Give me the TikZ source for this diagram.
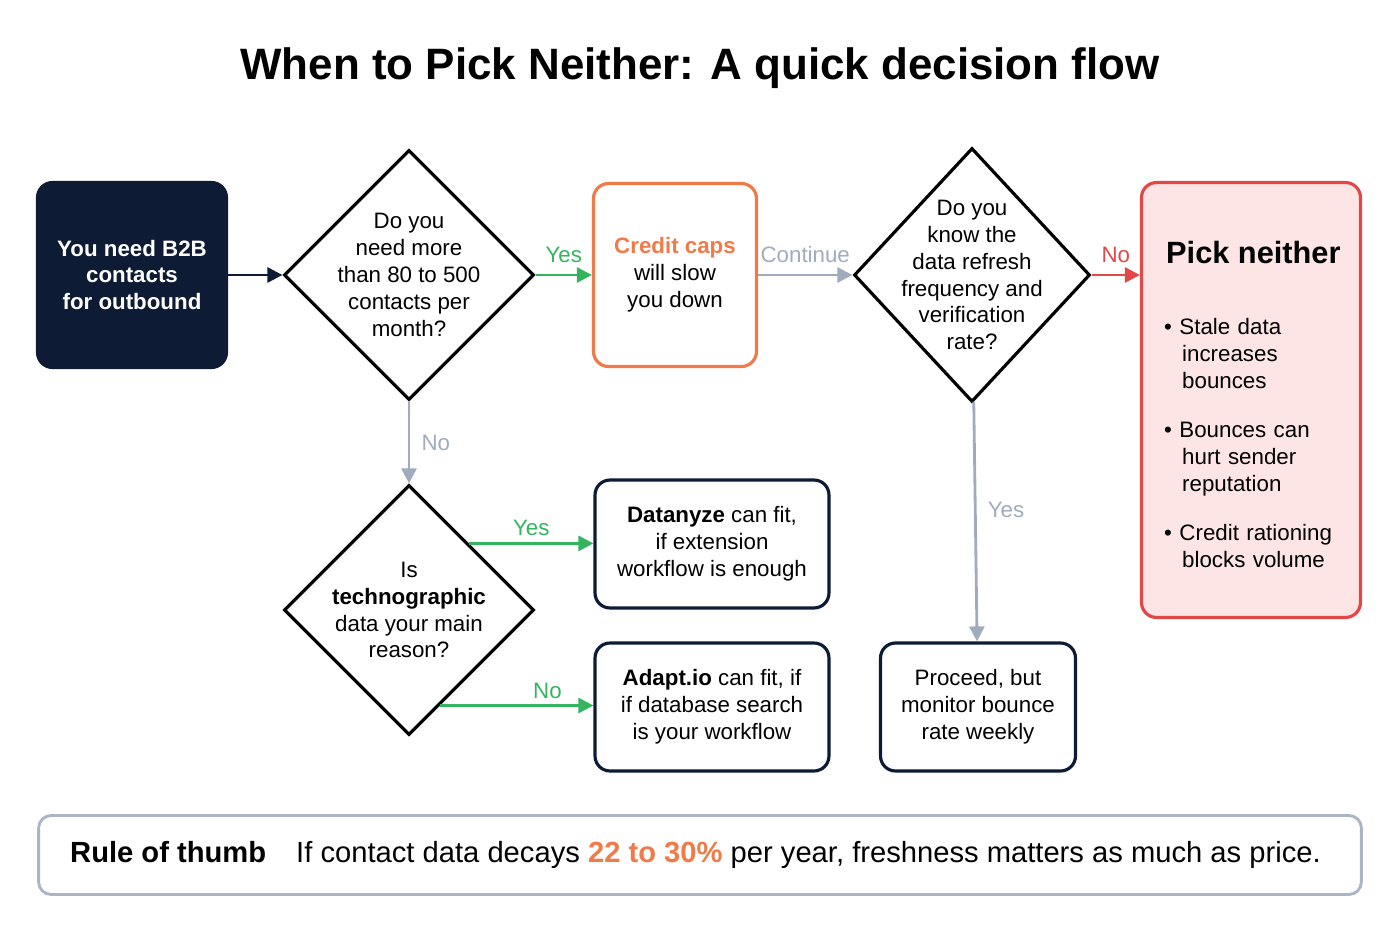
\documentclass[tikz,border=0pt]{standalone}
\usepackage{fontspec}
\setmainfont{Liberation Sans}
\usetikzlibrary{shapes.geometric,arrows.meta,positioning}
\definecolor{navy}{RGB}{14,27,52}
\definecolor{capsorange}{RGB}{240,122,72}
\definecolor{yesgreen}{RGB}{52,180,95}
\definecolor{flowgray}{RGB}{160,172,190}
\definecolor{stopred}{RGB}{226,72,72}
\definecolor{stopfill}{RGB}{253,229,229}
\definecolor{rulegray}{RGB}{170,180,196}
\tikzset{
  body/.style={font=\fontsize{12.7}{15.3}\selectfont, align=center},
  decide/.style={diamond, draw=black, line width=1.8pt, inner sep=0pt},
  box/.style={body, draw=navy, line width=1.8pt, rounded corners=0.3cm},
  flow/.style={line width=1.6pt, -{Triangle[length=0.3cm,width=0.3cm]}},
  tag/.style={font=\fontsize{12.7}{15.3}\selectfont}
}
\begin{document}
\begin{tikzpicture}[x=0.02cm,y=-0.02cm]
  \useasboundingbox (0,0) rectangle (1400,939);

  \node (title) at (700,68) {\fontsize{25}{30}\selectfont\bfseries When to Pick Neither: A quick decision flow};

  % Knoten
  \node[box, fill=navy, text=white, font=\fontsize{12.7}{15.3}\selectfont\bfseries,
        minimum width=3.78cm, minimum height=3.7cm] (start) at (132,275)
        {You need B2B\\contacts\\for outbound};
  \node[decide, minimum width=5cm, minimum height=5cm] (ask) at (409,275) {};
  \node[body] (asktext) at (ask) {Do you\\need more\\than 80 to 500\\contacts per\\month?};
  \node[box, draw=capsorange, minimum width=3.26cm, minimum height=3.66cm] (caps) at (675,275)
        {\textcolor{capsorange}{\bfseries Credit caps}\\will slow\\you down};
  \node[decide, minimum width=4.72cm, minimum height=5.08cm] (fresh) at (972,275) {};
  \node[body] (freshtext) at (fresh) {Do you\\know the\\data refresh\\frequency and\\verification\\rate?};
  \node[box, draw=stopred, fill=stopfill, minimum width=4.38cm, minimum height=8.7cm] (neither) at (1251,400) {};
  \node[anchor=west, font=\fontsize{17.5}{21}\selectfont\bfseries] (neitherhead) at (1160,253) {Pick neither};
  \node[anchor=north west, tag, align=left, text width=3.9cm] (reasons) at (1158,312)
        {\textbullet\ Stale data\\\hspace*{0.36cm}increases\\\hspace*{0.36cm}bounces\\[0.45cm]
         \textbullet\ Bounces can\\\hspace*{0.36cm}hurt sender\\\hspace*{0.36cm}reputation\\[0.45cm]
         \textbullet\ Credit rationing\\\hspace*{0.36cm}blocks volume};
  \node[decide, minimum width=5cm, minimum height=5cm] (techno) at (409,610) {};
  \node[body] (technotext) at (techno) {Is\\\textbf{technographic}\\data your main\\reason?};
  \node[box, minimum width=4.68cm, minimum height=2.56cm] (datanyze) at (712,544)
        {\textbf{Datanyze} can fit,\\if extension\\workflow is enough};
  \node[box, minimum width=4.68cm, minimum height=2.56cm] (adapt) at (712,707)
        {\textbf{Adapt.io} can fit, if\\if database search\\is your workflow};
  \node[box, minimum width=3.9cm, minimum height=2.56cm] (proceed) at (978,707)
        {Proceed, but\\monitor bounce\\rate weekly};
  \node[draw=rulegray, line width=1.6pt, rounded corners=0.25cm,
        minimum width=26.46cm, minimum height=1.58cm] (rule) at (700,855) {};
  \node[anchor=west, font=\fontsize{16.6}{19}\selectfont] (ruletext) at (64,855)
        {\textbf{Rule of thumb}\hspace{0.6cm}If contact data decays \textcolor{capsorange}{\bfseries 22 to 30\%} per year, freshness matters as much as price.};

  % Relationen
  \draw[flow, draw=navy] (start) -- (ask);
  \draw[flow, draw=yesgreen] (ask) -- node[above=3pt, text=yesgreen, tag] {Yes} (caps);
  \draw[flow, draw=flowgray] (caps) -- node[above=3pt, text=flowgray, tag] {Continue} (fresh);
  \draw[flow, draw=stopred] (fresh) -- node[above=3pt, text=stopred, tag] {No} (neither.west |- fresh);
  \draw[flow, draw=flowgray] (ask) -- node[right=3pt, text=flowgray, tag] {No} (techno);
  \draw[flow, draw=yesgreen] (techno.48) -- node[above, text=yesgreen, tag] {Yes} (techno.48 -| datanyze.west);
  \draw[flow, draw=yesgreen] (techno.-72) -- node[above, text=yesgreen, tag, pos=0.7] {No} (techno.-72 -| adapt.west);
  \draw[flow, draw=flowgray] (fresh) -- node[right=3pt, text=flowgray, tag, pos=0.45] {Yes} (proceed);
\end{tikzpicture}
\end{document}
